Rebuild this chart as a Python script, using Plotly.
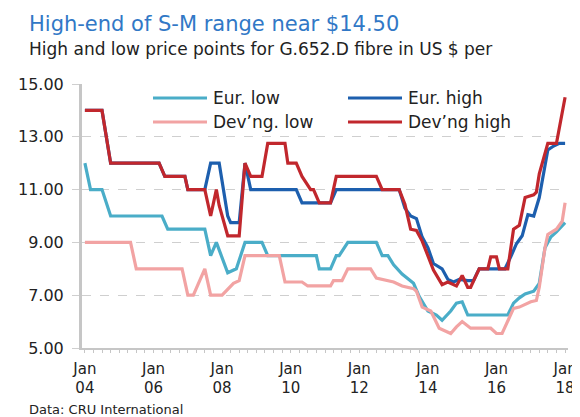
import plotly.graph_objects as go

# ---- data ----
eur_high_dates = ["2004-01", "2004-07", "2004-10", "2006-03", "2006-05", "2006-12", "2007-01", "2007-07",
                  "2007-09", "2007-12", "2008-03", "2008-04", "2008-07", "2008-09", "2008-11", "2010-03",
                  "2010-05", "2011-03", "2011-05", "2013-03", "2013-05", "2013-07", "2013-09", "2013-11",
                  "2014-01", "2014-03", "2014-06", "2014-08", "2014-10", "2014-12", "2015-03", "2015-05",
                  "2015-07", "2016-04", "2016-06", "2016-08", "2016-10", "2016-12", "2017-02", "2017-04",
                  "2017-05", "2017-07", "2017-09", "2017-11", "2018-01"]
eur_high_vals = [14, 14, 12, 12, 11.5, 11.5, 11, 11,
                 12, 12, 10, 9.75, 9.75, 12, 11, 11,
                 10.5, 10.5, 11, 11, 10.3, 10.0, 9.9, 9.2,
                 8.8, 8.2, 8.0, 7.6, 7.5, 7.6, 7.55, 7.55,
                 8.0, 8.0, 8.45, 8.95, 9.25, 10.05, 10.0, 10.7,
                 11.3, 12.5, 12.65, 12.75, 12.75]

dev_high_dates = ["2004-01", "2004-07", "2004-10", "2006-03", "2006-05", "2006-12", "2007-01", "2007-07",
                  "2007-09", "2007-11", "2007-12", "2008-03", "2008-07", "2008-09", "2008-11", "2009-03",
                  "2009-05", "2009-11", "2009-12", "2010-03", "2010-05", "2010-08", "2010-09", "2010-11",
                  "2011-03", "2011-05", "2012-07", "2012-09", "2013-03", "2013-05", "2013-07", "2013-09",
                  "2013-11", "2014-01", "2014-03", "2014-06", "2014-08", "2014-11", "2015-01", "2015-03",
                  "2015-04", "2015-07", "2015-10", "2015-11", "2016-01", "2016-02", "2016-05", "2016-07",
                  "2016-09", "2016-11", "2017-02", "2017-03", "2017-04", "2017-07", "2017-10", "2018-01"]
dev_high_vals = [14, 14, 12, 12, 11.5, 11.5, 11, 11,
                 10, 11, 10.4, 9.25, 9.25, 12, 11.5, 11.5,
                 12.75, 12.75, 12, 12, 11.5, 11, 11, 10.5,
                 10.5, 11.5, 11.5, 11, 11, 10.45, 9.5, 9.45,
                 9.05, 8.45, 7.95, 7.4, 7.5, 7.35, 7.75, 7.3,
                 7.3, 8.0, 8.0, 8.45, 8.45, 8.0, 8.0, 9.5,
                 9.65, 10.7, 10.8, 10.9, 11.6, 12.75, 12.75, 14.5]

eur_low_dates = ["2004-01", "2004-03", "2004-07", "2004-10", "2006-04", "2006-06", "2007-07", "2007-09",
                 "2007-11", "2008-03", "2008-06", "2008-09", "2009-03", "2009-05", "2010-10", "2010-11",
                 "2011-03", "2011-05", "2011-06", "2011-09", "2012-07", "2012-09", "2012-11", "2013-01",
                 "2013-04", "2013-08", "2013-10", "2014-01", "2014-04", "2014-06", "2014-09", "2014-11",
                 "2015-01", "2015-03", "2016-05", "2016-07", "2016-09", "2016-11", "2017-02", "2017-04",
                 "2017-06", "2017-08", "2017-10", "2018-01"]
eur_low_vals = [12, 11, 11, 10, 10, 9.5, 9.5, 8.5,
                9.0, 7.85, 8.0, 9.0, 9.0, 8.5, 8.5, 8.0,
                8.0, 8.5, 8.5, 9.0, 9.0, 8.5, 8.5, 8.15,
                7.8, 7.45, 6.95, 6.4, 6.25, 6.05, 6.4, 6.7,
                6.75, 6.25, 6.25, 6.7, 6.9, 7.05, 7.15, 7.45,
                8.8, 9.2, 9.4, 9.75]

dev_low_dates = ["2004-01", "2005-05", "2005-07", "2006-11", "2007-01", "2007-03", "2007-07", "2007-09",
                 "2008-01", "2008-05", "2008-07", "2008-09", "2009-09", "2009-11", "2010-05", "2010-07",
                 "2011-03", "2011-04", "2011-07", "2011-09", "2012-05", "2012-07", "2013-01", "2013-04",
                 "2013-08", "2013-09", "2013-11", "2014-02", "2014-05", "2014-09", "2014-11", "2015-01",
                 "2015-04", "2015-11", "2016-01", "2016-03", "2016-07", "2016-09", "2017-01", "2017-03",
                 "2017-04", "2017-06", "2017-07", "2017-10", "2017-12", "2018-01"]
dev_low_vals = [9, 9, 8, 8, 7, 7, 8, 7,
                7, 7.45, 7.55, 8.5, 8.5, 7.5, 7.5, 7.35,
                7.35, 7.55, 7.55, 8.0, 8.0, 7.65, 7.5, 7.35,
                7.25, 7.15, 6.55, 6.4, 5.75, 5.55, 5.8, 6.0,
                5.75, 5.75, 5.55, 5.55, 6.5, 6.55, 6.75, 6.8,
                7.3, 8.8, 9.3, 9.5, 9.8, 10.5]

x_tick_vals = ["2004-01-01", "2006-01-01", "2008-01-01", "2010-01-01",
               "2012-01-01", "2014-01-01", "2016-01-01", "2018-01-01"]
x_tick_text = ["Jan<br>04", "Jan<br>06", "Jan<br>08", "Jan<br>10",
               "Jan<br>12", "Jan<br>14", "Jan<br>16", "Jan<br>18"]
y_tick_vals = [5, 7, 9, 11, 13, 15]

series_names = ["Eur. low", "Eur. high", "Dev\u2019ng. low", "Dev\u2019ng high"]
series_colors = ["#4aadc8", "#1d5fae", "#f2a3a3", "#c1272d"]

FONT = "DejaVu Sans"
OFF = 8  # page body margin of the browser
W, H = 580 - OFF, 417 - OFF
# plot area in screen pixels
PL, PR, PT, PB = 82, 568, 84, 348
PW, PH = PR - PL, PB - PT


def px(xs):
    return (xs - PL) / PW


def py(ys):
    return (PB - ys) / PH


fig = go.Figure()
data = {
    "Eur. low": (eur_low_dates, eur_low_vals),
    "Dev\u2019ng. low": (dev_low_dates, dev_low_vals),
    "Eur. high": (eur_high_dates, eur_high_vals),
    "Dev\u2019ng high": (dev_high_dates, dev_high_vals),
}
for name, (xd, yd) in data.items():
    col = series_colors[series_names.index(name)]
    fig.add_trace(go.Scatter(x=xd, y=yd, mode="lines", name=name,
                             line=dict(color=col, width=3.2), showlegend=False))

fig.update_layout(
    width=W, height=H,
    margin=dict(l=PL - OFF, r=W - (PR - OFF), t=PT - OFF, b=H - (PB - OFF), autoexpand=False),
    paper_bgcolor="white", plot_bgcolor="white",
    font=dict(family=FONT, color="#222222"),
    showlegend=False,
    xaxis=dict(type="date", range=["2003-12-01", "2018-02-01"], automargin=False,
               tickmode="array", tickvals=x_tick_vals, ticktext=x_tick_text,
               tickfont=dict(family=FONT, size=15, color="#222222"),
               showgrid=False, zeroline=False,
               showline=True, linecolor="#c6c6c6", linewidth=1.5,
               ticks="outside", ticklen=3, tickcolor="#c6c6c6",
               minor=dict(dtick="M3", ticks="outside", ticklen=3, tickcolor="#c6c6c6", showgrid=False),
               ticklabelstandoff=3),
    yaxis=dict(range=[5, 15], tickmode="array", tickvals=y_tick_vals, tickformat=".2f", automargin=False,
               tickfont=dict(family=FONT, size=16, color="#222222"),
               showgrid=True, gridcolor="#cfcfcf", griddash="dash", gridwidth=1,
               zeroline=False, showline=True, linecolor="#c6c6c6", linewidth=3,
               ticks="outside", ticklen=7, tickcolor="#cfcfcf",
               ticklabelstandoff=5),
)

# manual legend (2 x 2)
legend_pos = [(153, 98), (348, 98), (153, 122), (348, 122)]
for name, col, (lx, ly) in zip(series_names, series_colors, legend_pos):
    fig.add_shape(type="line", xref="paper", yref="paper",
                  x0=px(lx), x1=px(lx + 54), y0=py(ly), y1=py(ly),
                  line=dict(color=col, width=3))
    fig.add_annotation(text=name, xref="paper", yref="paper",
                       x=px(lx + 58), y=py(ly), xanchor="left", yanchor="middle",
                       showarrow=False, font=dict(family=FONT, size=17, color="#222222"))

fig.add_annotation(text="High-end of S-M range near $14.50", xref="paper", yref="paper",
                   x=px(27), y=py(24), xanchor="left", yanchor="middle",
                   showarrow=False, font=dict(family=FONT, size=21, color="#3178c6"))
fig.add_annotation(text="High and low price points for G.652.D fibre in US $ per", xref="paper", yref="paper",
                   x=px(27), y=py(49), xanchor="left", yanchor="middle",
                   showarrow=False, font=dict(family=FONT, size=17, color="#222222"))
fig.add_annotation(text="Data: CRU International", xref="paper", yref="paper",
                   x=px(27), y=py(409), xanchor="left", yanchor="middle",
                   showarrow=False, font=dict(family=FONT, size=13, color="#222222"))

fig.write_html("out.html")
